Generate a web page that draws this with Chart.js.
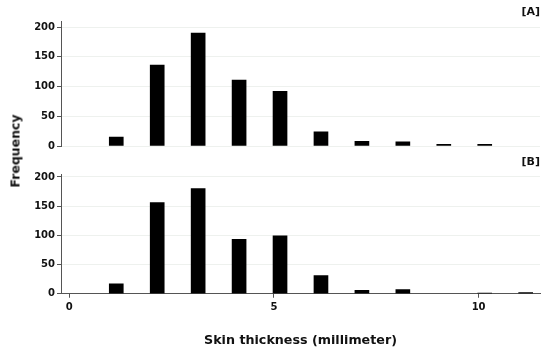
<!DOCTYPE html>
<html>
<head>
<meta charset="utf-8">
<script src="https://cdn.jsdelivr.net/npm/chart.js@4/dist/chart.umd.min.js"></script>
<style>
  body { margin: 0; background: #fff; }
  #wrap { position: relative; width: 550px; height: 354px; overflow: hidden; }
  #wrap canvas { position: absolute; left: 0; }
  #top { top: 0; }
  #bottom { top: 150px; }
  #ylab {
    position: absolute; left: 15px; top: 151px;
    transform: translate(-50%, -50%) rotate(-90deg);
    font: bold 12.5px "DejaVu Sans", sans-serif; color: #111; white-space: nowrap;
  }
</style>
</head>
<body>
<div id="wrap">
  <canvas id="top" width="550" height="154"></canvas>
  <canvas id="bottom" width="550" height="204"></canvas>
  <div id="ylab">Frequency</div>
</div>
<script>
  // skin thickness bins (mm) and counts per panel, null = no bar
  const thickness = [1, 2, 3, 4, 5, 6, 7, 8, 9, 10, 11];
  const countsA = [15, 136, 190, 111, 92, 24, 8, 7, 3, 3, null];
  const countsB = [17, 156, 180, 93, 99, 31, 6, 7, null, 1, 2];
  const yTicks = [0, 50, 100, 150, 200];
  const xTicks = [0, 5, 10];

  const font = 'DejaVu Sans';
  const barShift = 0.15;   // bars sit just right of the bin value in the source figure
  const axisGrey = '#555';

  function points(counts) {
    return thickness.map((t, i) => ({ x: t + barShift, y: counts[i] }));
  }

  function makeChart(id, counts, label, yMax, titlePad, showX) {
    return new Chart(document.getElementById(id), {
      type: 'bar',
      data: {
        datasets: [{
          data: points(counts),
          backgroundColor: '#000',
          barThickness: 14,
          borderWidth: 0
        }]
      },
      options: {
        responsive: false,
        animation: false,
        layout: { padding: { left: 0, right: 10, top: 0, bottom: 0 } },
        plugins: {
          legend: { display: false },
          tooltip: { enabled: false },
          title: {
            display: true, text: label, align: 'end', color: '#111',
            font: { family: font, size: 11, weight: 'bold' },
            padding: titlePad
          }
        },
        scales: {
          x: {
            type: 'linear', min: -0.2, max: 11.5,
            offset: false,
            display: showX,
            afterBuildTicks: (s) => { s.ticks = xTicks.map((v) => ({ value: v })); },
            ticks: {
              color: '#111', padding: 4, maxRotation: 0,
              font: { family: font, size: 10, weight: 'bold' }
            },
            grid: { offset: false, drawOnChartArea: false, drawTicks: true, tickLength: 4, tickColor: axisGrey },
            border: { color: axisGrey, width: 1 },
            title: {
              display: true, text: 'Skin thickness (millimeter)', color: '#111',
              font: { family: font, size: 12.7, weight: 'bold' },
              padding: { top: 15, bottom: 6 }
            }
          },
          y: {
            min: 0, max: yMax,
            afterBuildTicks: (s) => { s.ticks = yTicks.map((v) => ({ value: v })); },
            afterFit: (s) => { s.width = 61; },
            ticks: {
              color: '#111', padding: 2,
              font: { family: font, size: 10, weight: 'bold' }
            },
            grid: { color: '#eef1ee', tickLength: 4, tickColor: axisGrey },
            border: { color: axisGrey, width: 1 }
          }
        }
      }
    });
  }

  makeChart('top', countsA, '[A]', 210, { top: 6, bottom: 2 }, false);
  makeChart('bottom', countsB, '[B]', 205, { top: 5.4, bottom: 5.4 }, true);
</script>
</body>
</html>
